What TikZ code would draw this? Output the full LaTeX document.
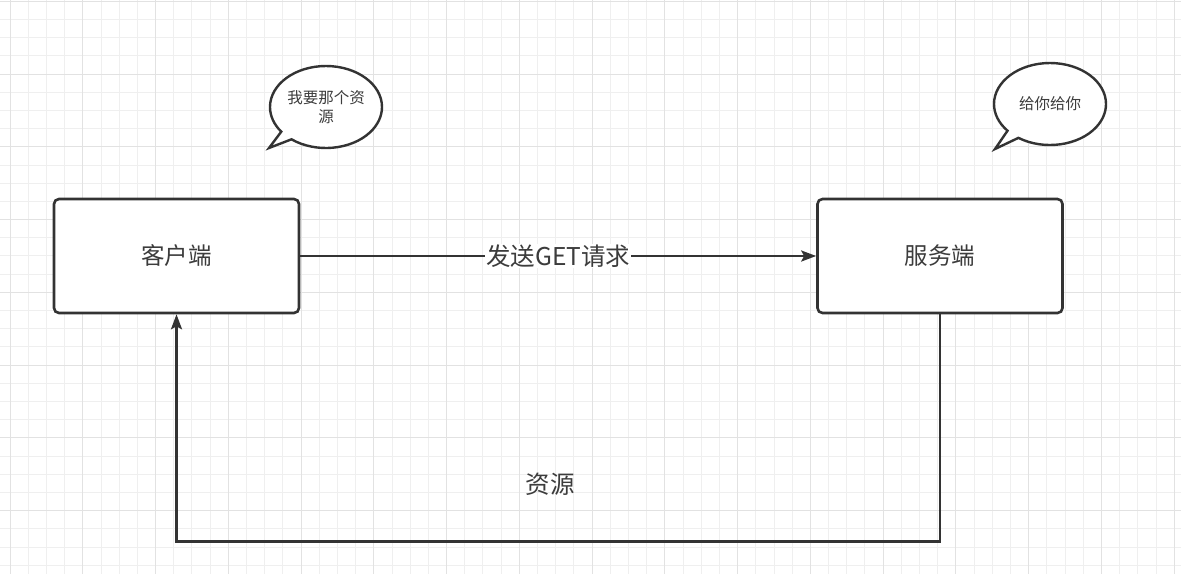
\documentclass[tikz,border=0pt]{standalone}
\usepackage{fontspec}
\setmainfont{Noto Sans CJK SC}
\usetikzlibrary{arrows.meta,shapes.callouts}
\definecolor{GridMinor}{HTML}{EFEFEF}
\definecolor{GridMajor}{HTML}{E2E2E2}
\definecolor{InkGray} {HTML}{333333}
\definecolor{TextGray}{HTML}{3C3C3C}
\tikzset{
  endbox/.style={rectangle,rounded corners=5pt,draw=InkGray,fill=white,
                 line width=2.6pt,minimum width=245pt,minimum height=114pt,
                 font=\fontsize{23.5}{28}\selectfont,text=TextGray},
  bubble/.style={ellipse callout,draw=InkGray,fill=white,line width=2.4pt,
                 minimum width=112pt,minimum height=82pt,inner sep=0pt,
                 align=center,font=\fontsize{15.5}{19}\selectfont,text=TextGray},
  conn/.style={-{Stealth[length=15pt,width=11pt,inset=3pt]},
               line width=2.6pt,color=InkGray},
  lbl/.style={font=\fontsize{24.5}{28}\selectfont,text=TextGray},
  gminor/.style={GridMinor,line width=0.9pt},
  gmajor/.style={GridMajor,line width=1pt},
}
\begin{document}
\begin{tikzpicture}[x=1pt,y=-1pt]

  % grid paper
  \fill[white] (0,0) rectangle (1181,574);
  \useasboundingbox (0,0) rectangle (1181,574);
  \foreach \i in {0,...,64}
    \draw[gminor] ({10+18.19*\i},0) -- ({10+18.19*\i},574);
  \foreach \j in {0,...,31}
    \draw[gminor] (0,{1.25+18.19*\j}) -- (1181,{1.25+18.19*\j});
  \foreach \i in {0,...,16}
    \draw[gmajor] ({10+72.76*\i},0) -- ({10+72.76*\i},574);
  \foreach \j in {0,...,7}
    \draw[gmajor] (0,{1.25+72.76*\j}) -- (1181,{1.25+72.76*\j});

  \node[endbox] (client) at (176.5,256) {客户端};
  \node[endbox] (server) at (940,256)   {服务端};

  \node[bubble,callout absolute pointer={(269,148)}]
    (ask) at (326,107) {我要那个资\\源};
  \node[bubble,callout absolute pointer={(995,149)}]
    (give) at (1050,104) {给你给你};

  \draw[conn] (client) -- node[lbl,fill=white,inner sep=1pt] (get) {发送GET请求} (server);
  \draw[conn] (server.south) -- ++(0,227) -| (client.south);

  \node[lbl] (res) at (550,484) {资源};

\end{tikzpicture}
\end{document}
